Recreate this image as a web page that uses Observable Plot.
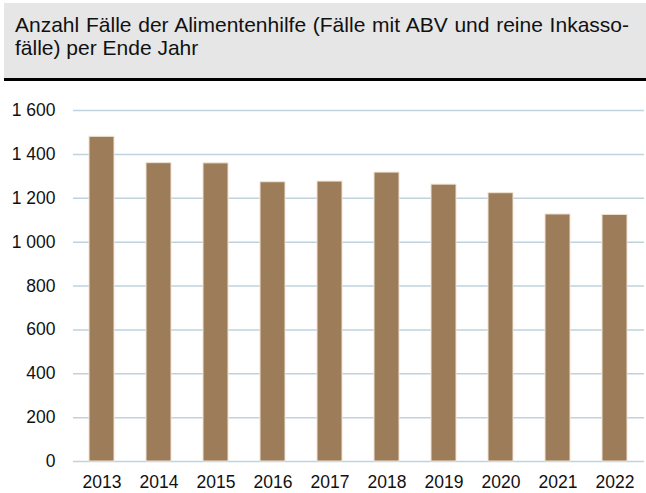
<!DOCTYPE html>
<html>
<head>
<meta charset="utf-8">
<script src="https://cdn.jsdelivr.net/npm/d3@7"></script>
<script src="https://cdn.jsdelivr.net/npm/@observablehq/plot@0.6"></script>
<style>
  html, body { margin: 0; padding: 0; background: #fff; }
  body { width: 646px; height: 493px; overflow: hidden; font-family: "Liberation Sans", Arial, sans-serif; }
  .header {
    box-sizing: border-box;
    margin: 3px 0 0 4px;
    height: 78px;
    background: #e6e6e6;
    border-bottom: 3px solid #000;
    padding: 10.1px 0 0 11px;
    font-size: 21px;
    line-height: 23.3px;
    color: #111;
  }
  .header .l1 { width: 614px; text-align: justify; text-align-last: justify; }
  #chart svg { display: block; }
</style>
</head>
<body>
<div class="header" id="title"></div>
<div id="chart"></div>
<script>
const titleLines = ["Anzahl Fälle der Alimentenhilfe (Fälle mit ABV und reine Inkasso-", "fälle) per Ende Jahr"];
const years = ["2013", "2014", "2015", "2016", "2017", "2018", "2019", "2020", "2021", "2022"];
const cases = [1480, 1360, 1359, 1273, 1276, 1317, 1262, 1223, 1126, 1124];
const yTicks = [0, 200, 400, 600, 800, 1000, 1200, 1400, 1600];

const titleEl = document.getElementById("title");
const l1 = document.createElement("div");
l1.className = "l1";
l1.textContent = titleLines[0];
const l2 = document.createElement("div");
l2.textContent = titleLines[1];
titleEl.appendChild(l1);
titleEl.appendChild(l2);

const data = years.map((y, i) => ({year: y, value: cases[i]}));
const fmt = d => d3.format(",")(d).replace(/,/g, " ");

const chart = Plot.plot({
  width: 646,
  height: 412,
  marginTop: 29,
  marginBottom: 32,
  marginLeft: 73,
  marginRight: 2,
  style: {fontFamily: "'Liberation Sans', Arial, sans-serif", fontSize: "17.5px", color: "#111", background: "#fff"},
  x: {domain: years, paddingInner: 0.56, paddingOuter: 0.28, label: null},
  y: {domain: [0, 1600], label: null},
  marks: [
    Plot.ruleY(yTicks, {stroke: "#bfd2de", strokeWidth: 1.5}),
    Plot.barY(data, {x: "year", y: "value", fill: "#9d7c5a", stroke: "#efe3d3", strokeWidth: 1}),
    Plot.axisX({tickSize: 0, tickPadding: 14, label: null}),
    Plot.axisY({ticks: yTicks, tickSize: 0, tickPadding: 18, tickFormat: fmt, label: null})
  ]
});
document.getElementById("chart").appendChild(chart);
</script>
</body>
</html>
